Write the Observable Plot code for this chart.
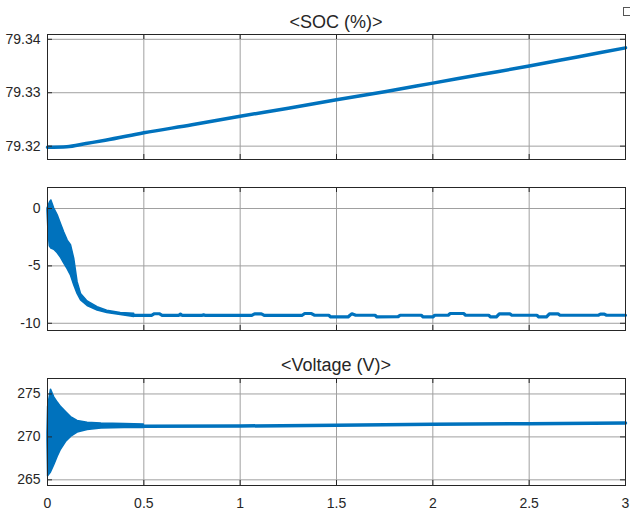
<!DOCTYPE html>
<html>
<head>
<meta charset="utf-8">
<script src="https://cdn.jsdelivr.net/npm/d3@7"></script>
<script src="https://cdn.jsdelivr.net/npm/@observablehq/plot@0.6"></script>
<style>
html, body { margin: 0; padding: 0; background: #fff; }
#chart { position: relative; width: 630px; height: 511px; overflow: hidden; font-family: "Liberation Sans", Arial, sans-serif; }
.panel { position: absolute; left: 0; }
.title { position: absolute; left: 47px; width: 578px; text-align: center; font-size: 18px; line-height: 18px; color: #262626; }
.icon { position: absolute; left: 623px; top: 7px; width: 6px; height: 7px; border: 1px solid #555; }
</style>
</head>
<body>
<div id="chart"></div>
<script>
// ---------- data ----------
const xTicks = [0, 0.5, 1, 1.5, 2, 2.5, 3];
const xTickLabels = ["0", "0.5", "1", "1.5", "2", "2.5", "3"];

const socTitle = "<SOC (%)>";
const socTicks = [79.32, 79.33, 79.34];
const socTickLabels = ["79.32", "79.33", "79.34"];
const socTime = [0, 0.1, 0.2, 0.3, 0.5, 0.75, 1, 1.25, 1.5, 1.75, 2, 2.25, 2.5, 2.75, 3];
const socValue = [79.3198, 79.3199, 79.3205, 79.3211, 79.3225, 79.3240, 79.3256, 79.3271, 79.3287, 79.3302, 79.3318, 79.3334, 79.3350, 79.3367, 79.3384];

const currentTicks = [-10, -5, 0];
const currentTickLabels = ["-10", "-5", "0"];
const currentBandTime = [0, 0.005, 0.012, 0.02, 0.035, 0.053, 0.07, 0.087, 0.105, 0.122, 0.139, 0.156, 0.174, 0.208, 0.26, 0.31, 0.38, 0.45];
const currentBandHigh = [0, 0.2, 0.5, 0.7, 0.0, -0.6, -1.35, -2.1, -2.8, -3.2, -4.4, -6.4, -7.45, -8.1, -8.6, -8.9, -9.1, -9.18];
const currentBandLow = [-0.2, -2.0, -3.3, -3.5, -3.6, -3.9, -4.3, -4.8, -5.3, -5.85, -6.7, -7.45, -8.0, -8.5, -8.9, -9.1, -9.27, -9.45];
const currentTime = [0.45, 0.54, 0.555, 0.58, 0.595, 0.68, 0.69, 0.70, 0.80, 0.81, 0.82, 1.06, 1.075, 1.11, 1.125, 1.32, 1.335, 1.37, 1.385, 1.46, 1.47, 1.56, 1.57, 1.58, 1.60, 1.70, 1.71, 1.82, 1.83, 1.94, 1.95, 2.00, 2.01, 2.08, 2.09, 2.16, 2.17, 2.29, 2.30, 2.33, 2.345, 2.40, 2.41, 2.54, 2.55, 2.59, 2.605, 2.65, 2.66, 2.86, 2.87, 2.89, 2.90, 3.0];
const currentValue = [-9.32, -9.32, -9.17, -9.17, -9.32, -9.32, -9.2, -9.32, -9.32, -9.27, -9.32, -9.32, -9.18, -9.18, -9.32, -9.32, -9.15, -9.15, -9.3, -9.3, -9.45, -9.45, -9.3, -9.17, -9.3, -9.3, -9.45, -9.42, -9.3, -9.3, -9.45, -9.45, -9.3, -9.3, -9.15, -9.15, -9.3, -9.3, -9.45, -9.45, -9.18, -9.18, -9.3, -9.3, -9.45, -9.45, -9.18, -9.18, -9.3, -9.3, -9.2, -9.2, -9.3, -9.3];

const voltageTitle = "<Voltage (V)>";
const voltageTicks = [265, 270, 275];
const voltageTickLabels = ["265", "270", "275"];
const voltageBandTime = [0, 0.003, 0.018, 0.035, 0.053, 0.07, 0.096, 0.122, 0.156, 0.208, 0.28, 0.4, 0.5];
const voltageBandHigh = [270.5, 273.5, 275.5, 274.6, 274.0, 273.5, 272.9, 272.3, 271.85, 271.65, 271.55, 271.5, 271.45];
const voltageBandLow = [269.5, 265.4, 265.85, 266.7, 267.7, 268.5, 269.4, 270.0, 270.5, 270.8, 270.97, 271.05, 271.05];
const voltageTime = [0.5, 1, 1.5, 2, 2.5, 3];
const voltageValue = [271.25, 271.27, 271.36, 271.46, 271.54, 271.62];

// ---------- layout ----------
const W = 630, ML = 47, MR = 5;
const BLUE = "#0072BD", INK = "#262626", GRID = "#a0a0a0";
const chart = document.getElementById("chart");

const zip2 = (t, v) => t.map((d, i) => ({t: d, v: v[i]}));
const zip3 = (t, hi, lo) => t.map((d, i) => ({t: d, hi: hi[i], lo: lo[i]}));

function panel({top, height, marginTop, marginBottom, yDomain, yTicks, yLabels, showX, marks}) {
  const plotW = W - ML - MR;
  const plotH = height - marginTop - marginBottom;
  const svg = Plot.plot({
    width: W, height, marginLeft: ML, marginRight: MR, marginTop, marginBottom,
    style: {fontFamily: "'Liberation Sans', Arial, sans-serif", fontSize: "14px", color: INK, background: "transparent", overflow: "visible"},
    x: {domain: [0, 3], label: null, ...(showX ? {} : {axis: null})},
    y: {domain: yDomain, label: null},
    marks: [
      Plot.gridX(xTicks, {stroke: GRID, strokeOpacity: 1}),
      Plot.gridY(yTicks, {stroke: GRID, strokeOpacity: 1}),
      ...marks,
      Plot.tickY(yTicks, {y: d => d, insetRight: plotW - 5, stroke: INK}),
      Plot.tickY(yTicks, {y: d => d, insetLeft: plotW - 5, stroke: INK}),
      Plot.tickX(xTicks, {x: d => d, insetBottom: plotH - 5, stroke: INK}),
      Plot.tickX(xTicks, {x: d => d, insetTop: plotH - 5, stroke: INK}),
      Plot.axisY(yTicks, {label: null, tickSize: 0, tickPadding: 7, tickFormat: d => yLabels[yTicks.indexOf(d)], fill: INK}),
      ...(showX ? [Plot.axisX(xTicks, {label: null, tickSize: 0, tickPadding: 13, tickFormat: d => xTickLabels[xTicks.indexOf(d)], fill: INK})] : []),
      Plot.frame({stroke: INK})
    ]
  });
  svg.classList.add("panel");
  svg.style.top = top + "px";
  chart.appendChild(svg);
}

function title(text, top) {
  const div = document.createElement("div");
  div.className = "title";
  div.style.top = top + "px";
  div.textContent = text;
  chart.appendChild(div);
}

// Panel 1: SOC
panel({
  top: 28, height: 140, marginTop: 6, marginBottom: 9,
  yDomain: [79.3175, 79.3409], yTicks: socTicks, yLabels: socTickLabels, showX: false,
  marks: [Plot.line(zip2(socTime, socValue), {x: "t", y: "v", stroke: BLUE, strokeWidth: 3.5, curve: "monotone-x"})]
});

// Panel 2: current
panel({
  top: 181, height: 160, marginTop: 6, marginBottom: 11,
  yDomain: [-10.63, 1.83], yTicks: currentTicks, yLabels: currentTickLabels, showX: false,
  marks: [
    Plot.areaY(zip3(currentBandTime, currentBandHigh, currentBandLow), {x: "t", y1: "lo", y2: "hi", fill: BLUE, stroke: BLUE, strokeWidth: 1.5}),
    Plot.line(zip2(currentTime, currentValue), {x: "t", y: "v", stroke: BLUE, strokeWidth: 3.2})
  ]
});

// Panel 3: voltage
panel({
  top: 372, height: 139, marginTop: 6, marginBottom: 26,
  yDomain: [264.34, 276.8], yTicks: voltageTicks, yLabels: voltageTickLabels, showX: true,
  marks: [
    Plot.areaY(zip3(voltageBandTime, voltageBandHigh, voltageBandLow), {x: "t", y1: "lo", y2: "hi", fill: BLUE, stroke: BLUE, strokeWidth: 1.5}),
    Plot.line(zip2(voltageTime, voltageValue), {x: "t", y: "v", stroke: BLUE, strokeWidth: 3.5})
  ]
});

title(socTitle, 13);
title(voltageTitle, 356);

const icon = document.createElement("div");
icon.className = "icon";
chart.appendChild(icon);
</script>
</body>
</html>
